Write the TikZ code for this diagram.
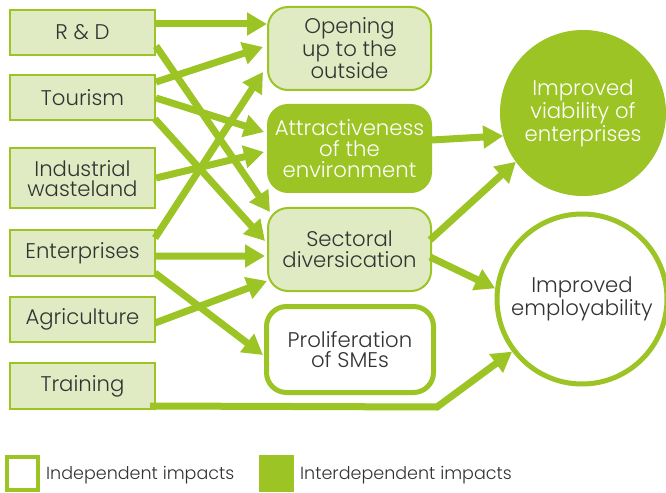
\documentclass[tikz,border=0pt]{standalone}
\usepackage{fontspec}
\setmainfont{Poppins Light}
\usetikzlibrary{arrows.meta,calc}
\definecolor{gr}{HTML}{9BC424}
\definecolor{lg}{HTML}{E0EBC4}
\definecolor{tx}{HTML}{333333}
\begin{document}
\begin{tikzpicture}[x=1bp,y=-1bp,
  txt/.style={font=\fontsize{21.3}{20.8}\selectfont, text=tx, align=center, inner sep=0pt},
  src/.style={txt, draw=gr, fill=lg, line width=2bp, minimum width=145bp, minimum height=45bp},
  mid/.style={txt, draw=gr, fill=lg, line width=2bp, rounded corners=20bp, minimum width=163bp, minimum height=83bp},
  circ/.style={txt, circle, font=\fontsize{21.3}{23}\selectfont},
  arr/.style={draw=gr, line width=7bp, -{Triangle[length=20bp,width=22bp]}},
  legtxt/.style={font=\fontsize{17.6}{20}\selectfont, text=tx, anchor=west, inner sep=0pt}]
\fill[white] (0,0) rectangle (666,493);
\useasboundingbox (0,0) rectangle (666,493);

% sources
\node[src] (rd) at (82.5,32.5) {R \& D};
\node[src] (tour) at (82.5,97.5) {Tourism};
\node[src, minimum height=60bp] (ind) at (82.5,178.5) {Industrial\\wasteland};
\node[src] (ent) at (82.5,253) {Enterprises};
\node[src] (agr) at (82.5,319.5) {Agriculture};
\node[src, minimum height=46bp] (train) at (82.5,386) {Training};

% intermediate impacts
\node[mid] (open) at (349.5,48.5) {Opening\\up to the\\outside};
\node[mid, fill=gr, text=white, minimum height=87bp] (attr) at (349.5,148.5) {Attractiveness\\of the\\environment};
\node[mid] (sect) at (349.5,249.5) {Sectoral\\diversication};
\node[mid, fill=white, line width=5bp, minimum width=167bp, minimum height=86bp] (prol) at (350,349.5) {Proliferation\\of SMEs};

% final impacts
\node[circ, draw=gr, fill=gr, text=white, line width=1bp, minimum size=165bp] (viab) at (583,113) {Improved\\viability of\\enterprises};
\node[circ, draw=gr, fill=white, line width=5bp, minimum size=170bp] (emp) at (582,299) {Improved\\employability};

% connectors
\draw[arr] ($(rd.east)+(0,-8.5)$) -- ($(open.west)+(0,-24.5)$);
\draw[arr] ($(rd.east)+(0,13.5)$) -- ($(sect.west)+(3,-37.5)$);
\draw[arr] ($(tour.east)+(0,-15.5)$) -- ($(open.west)+(-4,-1.5)$);
\draw[arr] ($(tour.east)+(0,0.5)$) -- ($(attr.west)+(-3,-16.5)$);
\draw[arr] ($(tour.east)+(-1,21.5)$) -- ($(sect.west)+(-2,-8.5)$);
\draw[arr] ($(ind.east)+(0,-0.5)$) -- ($(attr.west)+(-3,3.5)$);
\draw[arr] ($(ent.east)+(-1,-15)$) -- ($(open.west)+(-4,23.5)$);
\draw[arr] ($(ent.east)+(0,3)$) -- ($(sect.west)+(-2,6.5)$);
\draw[arr] ($(ent.east)+(-1,20)$) -- ($(prol.west)+(-1,5.5)$);
\draw[arr] ($(agr.east)+(-1,3.5)$) -- ($(sect.west)+(0,31.5)$);
\coordinate (bend) at (437,407);
\draw[arr] ($(train.south east)+(-6,-4)$) -- (bend) -- (emp.217);
\draw[arr] ($(attr.east)+(0,-8.5)$) -- (viab.196);
\draw[arr] ($(sect.east)+(-2,-9.5)$) -- (viab.216);
\draw[arr] ($(sect.east)+(-2,7.5)$) -- (emp.173);

% legend
\node[draw=gr, fill=white, line width=4bp, minimum width=31bp, minimum height=33bp, inner sep=0pt] (leg1) at (22.5,473.5) {};
\node[legtxt] (leg1t) at (46,475) {Independent impacts};
\node[draw=gr, fill=gr, line width=1bp, minimum width=34bp, minimum height=36bp, inner sep=0pt] (leg2) at (276.5,473.5) {};
\node[legtxt] (leg2t) at (300,475) {Interdependent impacts};
\end{tikzpicture}
\end{document}
